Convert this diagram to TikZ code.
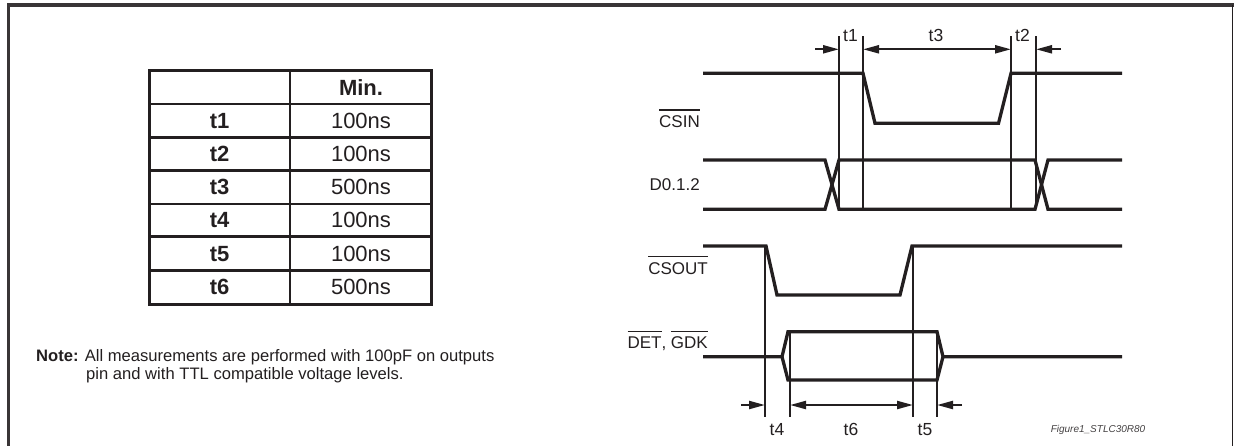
\documentclass[tikz,border=0pt]{standalone}
\usepackage{fontspec}
\setmainfont{Liberation Sans}
\usetikzlibrary{arrows.meta}
\definecolor{ink}{HTML}{231F20}
\newcommand{\myovl}[2]{\setbox0\hbox{#2}\rlap{\rule[#1]{\wd0}{1.5pt}}\box0}
\begin{document}
\begin{tikzpicture}[x=1pt,y=-1pt,
  frame/.style={line width=3.2pt, draw=ink!90},
  tbl/.style={line width=2.8pt, draw=ink},
  sig/.style={line width=3.3pt, draw=ink, line join=miter, miter limit=4},
  refl/.style={line width=1.9pt, draw=ink},
  dimln/.style={line width=2.2pt, draw=ink},
  headr/.style={-{Triangle[length=16pt,width=8pt]}},
  headb/.style={{Triangle[length=16pt,width=8pt]}-{Triangle[length=16pt,width=8pt]}},
  cell/.style={font=\fontsize{22}{25}\selectfont, text=ink, inner sep=0pt},
  cellb/.style={font=\fontsize{22}{25}\selectfont\bfseries, text=ink, inner sep=0pt},
  lbl/.style={font=\fontsize{17}{20}\selectfont, text=ink, inner sep=0pt, anchor=base east},
  tlbl/.style={font=\fontsize{17.5}{20}\selectfont, text=ink, inner sep=0pt, anchor=base},
  note/.style={font=\fontsize{16.6}{20}\selectfont, text=ink, inner sep=0pt, anchor=base west},
]
\useasboundingbox (0,0) rectangle (1234,445);
% frame (open at the bottom)
\draw[frame] (8.3,446) -- (8.3,5) -- (1234,5);
\draw[line width=1.6pt, draw=ink] (1232.5,5) -- (1232.5,446);

% ---------- table ----------
\draw[tbl] (149.5,70.7) rectangle (431.5,304.3);
\draw[tbl] (290,70.7) -- (290,304.3);
\foreach \yy in {104,137.3,170.7,204,236.8,270.3}
  \draw[tbl] (149.5,\yy) -- (431.5,\yy);
\node[cellb] (hmin) at (361,87.5) {Min.};
\foreach \nm/\val/\yy in {1/100ns/120.7, 2/100ns/154, 3/500ns/187.3, 4/100ns/220.4, 5/100ns/253.6, 6/500ns/287.2}{
  \node[cellb] (p\nm) at (219.7,\yy) {t\nm};
  \node[cell] (v\nm) at (361,\yy) {\val};
}

% ---------- note ----------
\node[note] (note1) at (36,361.5) {\textbf{Note:} All measurements are performed with 100pF on outputs};
\node[note] (note2) at (86,379.5) {pin and with TTL compatible voltage levels.};

% ---------- signal labels ----------
\node[lbl] (lcsin) at (700,127.7) {\myovl{16.8pt}{CSIN}};
\node[lbl] (ld) at (700,190.7) {D0.1.2};
\node[lbl] (lcsout) at (708,274) {\myovl{16.6pt}{CSOUT}};
\node[lbl] (ldet) at (708,348.3) {\myovl{16.2pt}{DET}, \myovl{16.2pt}{GDK}};

% ---------- reference coordinates ----------
\coordinate (aT) at (839,36);   \coordinate (aB) at (839,209.3);
\coordinate (bT) at (863,36);   \coordinate (bB) at (863,209.3);
\coordinate (cT) at (1011,36);  \coordinate (cB) at (1011,209.3);
\coordinate (dT) at (1036,36);  \coordinate (dB) at (1036,209.3);
\coordinate (eT) at (765,246);  \coordinate (eB) at (765,417);
\coordinate (fT) at (790,332);  \coordinate (fB) at (790,417);
\coordinate (gT) at (913,246);  \coordinate (gB) at (913,417);
\coordinate (hT) at (937,332);  \coordinate (hB) at (937,417);

% ---------- waveforms ----------
% CSIN
\draw[sig] (703,73.3) -- (863,73.3) -- (875,123.3) -- (998.5,123.3) -- (1011,73.3) -- (1122,73.3);
% D0.1.2
\draw[sig] (703,160) -- (825,160) -- (839,209.3) -- (1035,209.3) -- (1048,160) -- (1122,160);
\draw[sig] (703,209.3) -- (825,209.3) -- (839,160) -- (1035,160) -- (1048,209.3) -- (1122,209.3);
% CSOUT
\draw[sig] (703,246) -- (766,246) -- (777,295) -- (900,295) -- (912,246) -- (1122,246);
% DET, GDK
\draw[sig] (703,356.7) -- (782,356.7) -- (788,331.7) -- (937,331.7) -- (943,356.7) -- (1122,356.7);
\draw[sig] (782,356.7) -- (788,380) -- (937,380) -- (943,356.7);

% ---------- reference lines ----------
\foreach \r in {a,b,c,d,e,f,g,h}
  \draw[refl] (\r T) -- (\r B);

% ---------- dimension arrows ----------
\coordinate (t1tail) at (815,49.3);
\coordinate (t2tail) at (1061,49.3);
\coordinate (t4tail) at (741,405);
\coordinate (t5tail) at (962,405);
\draw[dimln,headr] (t1tail) -- (t1tail -| aT);
\draw[dimln,headb] (t1tail -| bT) -- (t1tail -| cT);
\draw[dimln,headr] (t2tail) -- (t2tail -| dT);
\draw[dimln,headr] (t4tail) -- (t4tail -| eT);
\draw[dimln,headb] (t4tail -| fT) -- (t4tail -| gT);
\draw[dimln,headr] (t5tail) -- (t5tail -| hT);

% ---------- timing labels ----------
\node[tlbl] (lt1) at (850.5,41.7) {t1};
\node[tlbl] (lt3) at (936,41.7) {t3};
\node[tlbl] (lt2) at (1022.5,41.7) {t2};
\node[tlbl] (lt4) at (777,435) {t4};
\node[tlbl] (lt6) at (851,435) {t6};
\node[tlbl] (lt5) at (925,435) {t5};
\node[font=\fontsize{10}{12}\selectfont\itshape, text=ink!85, inner sep=0pt] (fig) at (1098,430) {Figure1\_STLC30R80};
\end{tikzpicture}
\end{document}
